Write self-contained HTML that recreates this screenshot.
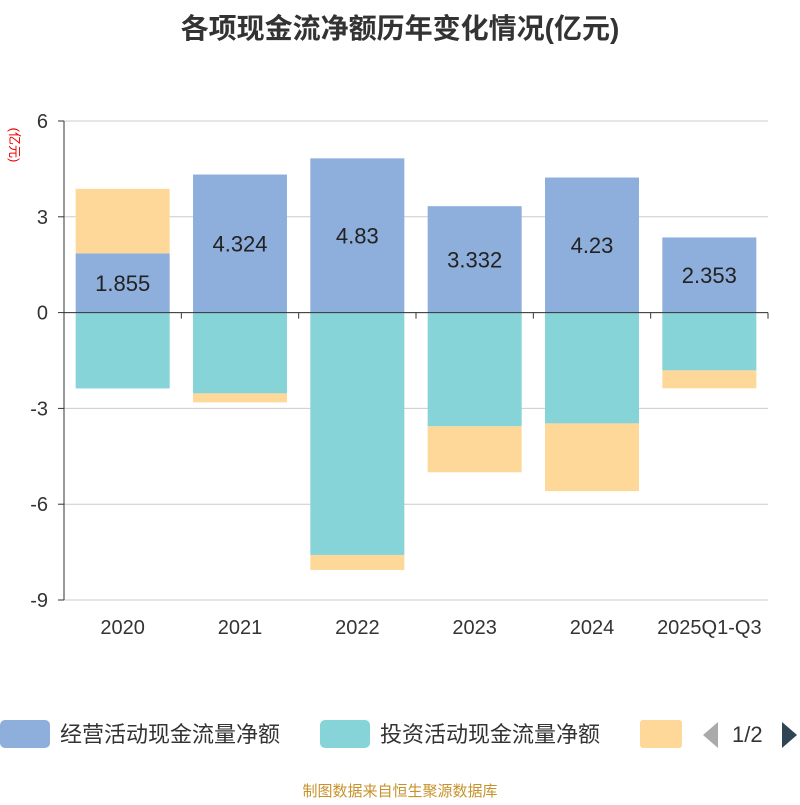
<!DOCTYPE html>
<html><head><meta charset="utf-8"><style>
body{margin:0;background:#fff;width:800px;height:800px;overflow:hidden;font-family:"Liberation Sans","Noto Sans CJK SC",sans-serif}
</style></head><body>
<svg id="c" width="800" height="800" xmlns="http://www.w3.org/2000/svg">
<text x="400" y="38" text-anchor="middle" font-size="28" font-weight="bold" fill="#333" font-family="Liberation Sans,Noto Sans CJK SC,sans-serif">各项现金流净额历年变化情况(亿元)</text>
<text x="10" y="145" font-size="13" fill="#e00" transform="rotate(90 10 145)" text-anchor="middle" font-family="Liberation Sans,Noto Sans CJK SC,sans-serif">(亿元)</text>
<g id="grid"></g><g id="bars"></g><g id="axes"></g>
<g font-size="22" fill="#333" font-family="Liberation Sans,Noto Sans CJK SC,sans-serif">
<rect x="0" y="720" width="50" height="28" rx="5" fill="#8eaedb"/>
<text x="60" y="742">经营活动现金流量净额</text>
<rect x="320" y="720" width="50" height="28" rx="5" fill="#86d4d8"/>
<text x="380" y="742">投资活动现金流量净额</text>
<rect x="640" y="720" width="42" height="28" rx="3" fill="#fed899"/>
<polygon points="718,722 718,748 703,735" fill="#aaa"/>
<text x="732" y="742">1/2</text>
<polygon points="782,722 782,748 797,735" fill="#2f4554"/>
</g>
<text x="400" y="796" text-anchor="middle" font-size="15" fill="#c8922a" font-family="Liberation Sans,Noto Sans CJK SC,sans-serif">制图数据来自恒生聚源数据库</text>
</svg>
<script>
const categories=["2020","2021","2022","2023","2024","2025Q1-Q3"];
const operating=[1.855,4.324,4.83,3.332,4.23,2.353];
const investing=[-2.375,-2.53,-7.59,-3.56,-3.47,-1.81];
const financing=[2.02,-0.28,-0.47,-1.44,-2.12,-0.56];
const yTicks=[6,3,0,-3,-6,-9];
const NS="http://www.w3.org/2000/svg";
const x0=64,x1=768,yTop=121,yBot=600,vMax=6,vMin=-9;
const y=v=>yTop+(vMax-v)/(vMax-vMin)*(yBot-yTop);
const band=(x1-x0)/categories.length;
const xc=i=>x0+band*(i+0.5);
function mk(t,a,p){const e=document.createElementNS(NS,t);for(const k in a)e.setAttribute(k,a[k]);p.appendChild(e);return e;}
const grid=document.getElementById('grid'),bars=document.getElementById('bars'),axes=document.getElementById('axes');
yTicks.forEach(t=>{
 const l=mk('line',{x1:x0,x2:x1,y1:y(t),y2:y(t),stroke:'#ccc'},grid);
 
 
 const tx=mk('text',{x:48,y:y(t)+7,'text-anchor':'end','font-size':20,fill:'#333'},axes);
 tx.textContent=t;
 
 
 mk('line',{x1:x0-6,x2:x0,y1:y(t),y2:y(t),stroke:'#333'},axes);
});
mk('line',{x1:x0,x2:x0,y1:yTop,y2:yBot,stroke:'#333'},axes);
mk('line',{x1:x0,x2:x1,y1:y(0),y2:y(0),stroke:'#333'},axes);
categories.forEach((c,i)=>{
 mk('line',{x1:x0+band*i,x2:x0+band*i,y1:y(0),y2:y(0)+6,stroke:'#333'},axes);
 const tx=mk('text',{x:xc(i),y:634,'text-anchor':'middle','font-size':20,fill:'#333'},axes);
 tx.textContent=c;
 
 
 let pos=0,neg=0;const w=94;
 [[operating,'#8eaedb','operating'],[investing,'#86d4d8','investing'],[financing,'#fed899','financing']].forEach(([arr,col,nm])=>{
  const v=arr[i];let a,b;
  if(v>=0){a=pos;b=pos+v;pos=b;}else{a=neg;b=neg+v;neg=b;}
  const r=mk('rect',{x:xc(i)-w/2,y:Math.min(y(a),y(b)),width:w,height:Math.abs(y(a)-y(b)),fill:col},bars);
  
  
 });
 const lb=mk('text',{x:xc(i),y:(y(0)+y(operating[i]))/2+8,'text-anchor':'middle','font-size':22,fill:'#222'},bars);
 lb.textContent=operating[i];
 
 
});
mk('line',{x1:x1,x2:x1,y1:y(0),y2:y(0)+6,stroke:'#333'},axes);
</script>
</body></html>
